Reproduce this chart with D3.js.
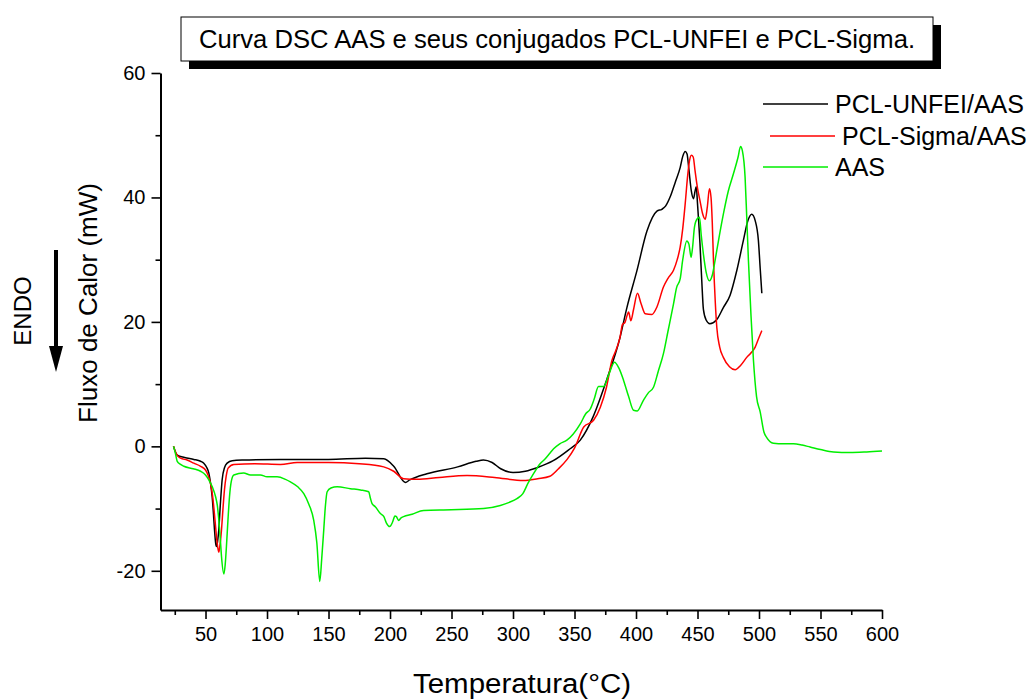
<!DOCTYPE html>
<html>
<head>
<meta charset="utf-8">
<script src="https://cdn.jsdelivr.net/npm/d3@7"></script>
<style>
  body { margin: 0; background: #fff; }
  svg text { font-family: "Liberation Sans", Arial, sans-serif; fill: #000; }
</style>
</head>
<body>
<div id="chart"></div>
<script>
// DSC curves: [temperature (°C), heat flow (mW)]
var pclUnfei = [[24,0],[27,-1.4],[33,-1.8],[40.5,-2.1],[46,-2.4],[48.6,-2.7],[51,-3.4],[52.7,-4.3],[54,-5.8],[55.4,-8.1],[56.5,-11],[57.3,-13.4],[58.2,-15.5],[58.9,-16.1],[59.8,-15.3],[60.8,-13.4],[62,-9.5],[63.5,-5.4],[65.5,-3.4],[67.6,-2.7],[71.7,-2.3],[80,-2.2],[111,-2.1],[150,-2.1],[180,-1.9],[195,-2.0],[203,-3.2],[212.5,-5.8],[216,-5.4],[230,-4.4],[255,-3.3],[270,-2.4],[276,-2.2],[283,-2.6],[290,-3.6],[300,-4.2],[310,-4.0],[320,-3.4],[332.7,-2.3],[345,-0.6],[354.7,1.0],[365,4.7],[376,10.6],[387,17.5],[392.6,22.3],[400.7,28.2],[408.9,34.6],[417,37.8],[421,38.1],[424,38.6],[427.8,40.1],[432,42.5],[435.9,44.8],[438,46.6],[440,47.4],[441.5,47],[443,44.5],[445,41],[446.7,39.8],[448,41],[449,41.7],[450,39],[452,32.6],[453.5,26.5],[454.8,22],[457,20.3],[460,19.7],[465.4,20.3],[471,22.3],[476.5,24.3],[482,28.3],[487.3,33.1],[491,36.3],[494.1,37.3],[497,36.2],[499.5,33.1],[501,28.5],[502.3,24.6]];

var pclSigma = [[24,0],[26,-1.1],[29.7,-1.9],[35,-2.2],[40.5,-2.7],[46,-3.2],[50,-3.8],[52,-4.6],[54,-5.9],[55.5,-7.6],[56.7,-9.7],[58,-12.5],[58.9,-14.5],[60,-16.3],[60.8,-17],[61.8,-15.8],[63,-13.4],[64.2,-10],[65.4,-7],[66.8,-4.8],[68.4,-3.5],[73,-2.9],[90,-2.8],[111,-2.9],[124.5,-2.6],[150,-2.6],[175,-2.8],[194.9,-3.3],[203,-4.0],[211,-5.2],[222,-5.3],[240,-5.0],[262.6,-4.7],[285,-5.0],[308.6,-5.5],[320,-5.2],[330,-4.8],[337,-3.6],[344,-2.1],[350,-0.3],[357.5,3.1],[365.5,4.2],[371,6.3],[376,9.5],[380.4,13.8],[384,15.6],[387,17.5],[389,19.6],[391,19.9],[393,21.2],[394,21.6],[395.8,20.2],[398,22],[401.2,24.6],[404,23],[407.5,21.3],[412.9,21.2],[417,22.4],[422.3,25.6],[426,27],[430.5,28.3],[433.5,30],[435.9,32],[438,35],[440,39],[442,43.5],[443.5,45.9],[445,46.8],[446.5,46.5],[448,44.3],[450,41.5],[452,39.5],[454,37.5],[456.3,36.5],[458,38.5],[459.7,41.4],[461,40],[462,36],[463,29.8],[464.5,23],[465.7,19.1],[468,16],[471,14.3],[476,12.8],[480.6,12.3],[485,13],[490,14.3],[496.8,15.9],[500,17.5],[502.3,18.6]];

var aas = [[24,0],[25.6,-1.2],[27,-2.4],[29.7,-2.9],[32.4,-3.2],[40,-3.6],[46,-4.0],[50,-4.6],[52.7,-5.4],[55.5,-6.5],[58.2,-8.1],[59.6,-9.5],[60.8,-11.8],[62,-14.8],[63,-17.7],[64.9,-20.5],[66,-19],[67,-16.1],[68.2,-12],[69.5,-8.1],[71,-5.6],[73,-4.6],[81,-4.3],[86.6,-4.6],[94.7,-4.6],[100,-4.9],[108.2,-4.9],[115,-5.3],[119,-5.7],[125,-6.5],[129.9,-7.6],[134,-9.3],[138,-11.9],[140.5,-15.5],[142.9,-21.7],[144.5,-18],[146.1,-13.5],[147.5,-9.5],[148.9,-7.3],[152,-6.7],[157,-6.5],[167.8,-6.8],[176,-7.0],[182.7,-7.3],[184,-8.3],[185.4,-9.2],[188,-9.7],[192.2,-10.8],[195,-11.3],[197,-12.3],[199.7,-12.9],[202,-12.2],[204,-11.2],[205.2,-11.3],[207,-11.9],[209,-11.5],[211,-11.3],[218,-10.9],[227.3,-10.3],[250,-10.2],[276,-10.0],[289.7,-9.5],[297,-9.0],[303.2,-8.4],[308,-7.6],[312,-6.0],[316.7,-4.4],[322,-2.8],[326.2,-2.0],[330,-1.1],[333,-0.4],[338,0.4],[343.8,1.0],[349,2.0],[354.7,3.6],[359,5.2],[362.8,6.0],[366,7.6],[369.5,9.6],[373.6,9.6],[378,11.6],[382.5,13.5],[386,12.6],[389.9,10.6],[394,8.0],[398,5.8],[401,5.7],[406,7.4],[410,8.6],[414.2,9.5],[418,12],[422.3,14.9],[426,18.5],[430.5,22.9],[433,25.5],[435.9,26.9],[438,30],[441.3,33],[443,32.5],[444.8,30.4],[446,32],[447.5,35.2],[449.5,36.5],[451.6,36.8],[453,34],[454.8,30.9],[457,28],[459.7,26.6],[462,27.5],[464.3,29.9],[467,33],[471.1,37.4],[475,41],[479.2,43.8],[483,46.5],[485,48.2],[486.5,47.5],[488.7,43.2],[490,37],[491.4,29.9],[493.5,21],[495.5,13.8],[498,8],[501,5.5],[504,2.3],[506.3,1.4],[511.7,0.5],[520,0.4],[528,0.4],[535,0.2],[541.5,-0.1],[550,-0.5],[560.5,-0.9],[574,-1.0],[587.6,-0.9],[600,-0.75]];

var seriesNames = ["PCL-UNFEI/AAS", "PCL-Sigma/AAS", "AAS"];
var seriesColors = ["#000000", "#ff0000", "#00ee00"];
var xTicks = [50, 100, 150, 200, 250, 300, 350, 400, 450, 500, 550, 600];
var xMinor = [25, 75, 125, 175, 225, 275, 325, 375, 425, 475, 525, 575];
var yTicks = [-20, 0, 20, 40, 60];
var yMinor = [-10, 10, 30, 50];
var title = "Curva DSC AAS e seus conjugados PCL-UNFEI e PCL-Sigma.";

var width = 1034, height = 700;
var svg = d3.select("#chart").append("svg")
    .attr("width", width)
    .attr("height", height);

// Scales (plot box: x 160..882, y 73..610)
var x = d3.scaleLinear().domain([13.4, 600]).range([160.5, 882]);
var y = d3.scaleLinear().domain([-26.3, 60]).range([610, 73]);

// plain hyphen for negatives, like the original
var fmt = function(d) { return String(d); };

// Axes
svg.append("g").attr("transform", "translate(0,610)")
    .call(d3.axisBottom(x).tickValues(xTicks).tickFormat(fmt).tickSize(9).tickSizeOuter(0).tickPadding(8));
svg.append("g").attr("transform", "translate(0,610)")
    .call(d3.axisBottom(x).tickValues(xMinor).tickSize(5).tickFormat("").tickSizeOuter(0))
    .select(".domain").remove();
svg.append("g").attr("transform", "translate(160.5,0)")
    .call(d3.axisLeft(y).tickValues(yTicks).tickFormat(fmt).tickSize(9).tickSizeOuter(0).tickPadding(6));
svg.append("g").attr("transform", "translate(160.5,0)")
    .call(d3.axisLeft(y).tickValues(yMinor).tickSize(5).tickFormat("").tickSizeOuter(0))
    .select(".domain").remove();

svg.selectAll(".domain").attr("stroke-width", 2);
svg.selectAll(".tick line").attr("stroke-width", 1.6);
svg.selectAll(".tick text")
    .style("font-family", "'Liberation Sans', Arial, sans-serif")
    .style("font-size", "20px");

// Curves
var line = d3.line()
    .x(function(d) { return x(d[0]); })
    .y(function(d) { return y(d[1]); })
    .curve(d3.curveMonotoneX);

[pclUnfei, pclSigma, aas].forEach(function(s, i) {
  svg.append("path")
      .datum(s)
      .attr("fill", "none")
      .attr("stroke", seriesColors[i])
      .attr("stroke-width", 1.5)
      .attr("d", line);
});

// Legend
var legendY = [104, 136, 167];
var legendX = [763, 770, 763];
seriesNames.forEach(function(name, i) {
  svg.append("line")
      .attr("x1", legendX[i]).attr("x2", legendX[i] + 65)
      .attr("y1", legendY[i]).attr("y2", legendY[i])
      .attr("stroke", seriesColors[i]).attr("stroke-width", 1.5);
  svg.append("text")
      .attr("x", legendX[i] + 72).attr("y", legendY[i] + 9)
      .style("font-size", "25px")
      .text(name);
});

// Title box with shadow
svg.append("rect").attr("x", 189).attr("y", 25).attr("width", 752).attr("height", 44).attr("fill", "#000");
svg.append("rect").attr("x", 181).attr("y", 17).attr("width", 752).attr("height", 44)
    .attr("fill", "#fff").attr("stroke", "#000").attr("stroke-width", 1);
svg.append("text")
    .attr("x", 557).attr("y", 48)
    .attr("text-anchor", "middle")
    .attr("textLength", 716)
    .attr("lengthAdjust", "spacingAndGlyphs")
    .style("font-size", "26px")
    .text(title);

// Axis titles
svg.append("text")
    .attr("x", 522).attr("y", 693)
    .attr("text-anchor", "middle")
    .attr("textLength", 218)
    .attr("lengthAdjust", "spacingAndGlyphs")
    .style("font-size", "27px")
    .text("Temperatura(°C)");
svg.append("text")
    .attr("transform", "translate(97,303) rotate(-90)")
    .attr("text-anchor", "middle")
    .style("font-size", "26px")
    .text("Fluxo de Calor (mW)");

// ENDO marker
svg.append("text")
    .attr("transform", "translate(31,311) rotate(-90)")
    .attr("text-anchor", "middle")
    .style("font-size", "24px")
    .text("ENDO");
svg.append("line")
    .attr("x1", 56).attr("x2", 56).attr("y1", 250).attr("y2", 348)
    .attr("stroke", "#000").attr("stroke-width", 4);
svg.append("path")
    .attr("d", "M49,346 L63,346 L56,372 Z")
    .attr("fill", "#000");
</script>
</body>
</html>
